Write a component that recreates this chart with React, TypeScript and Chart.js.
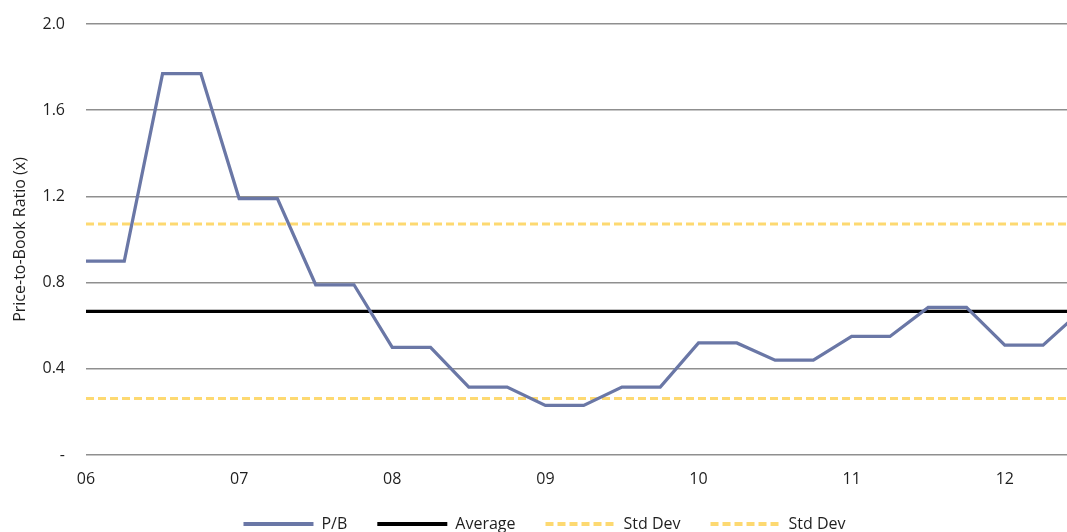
import React, { useEffect, useRef } from "react";
import { Chart, registerables } from "chart.js";

Chart.register(...registerables);

// Half-yearly P/B readings, each held for two quarters (x in decimal years, 6 = 2006)
const periods = [
  6, 6.25, 6.5, 6.75, 7, 7.25, 7.5, 7.75, 8, 8.25, 8.5, 8.75, 9, 9.25,
  9.5, 9.75, 10, 10.25, 10.5, 10.75, 11, 11.25, 11.5, 11.75, 12, 12.25, 12.5,
];
const pbValues = [
  0.9, 0.9, 1.77, 1.77, 1.19, 1.19, 0.79, 0.79, 0.5, 0.5, 0.315, 0.315, 0.23,
  0.23, 0.315, 0.315, 0.52, 0.52, 0.44, 0.44, 0.55, 0.55, 0.685, 0.685, 0.51,
  0.51, 0.67,
];

// Reference levels across the whole period
const averageValue = 0.667;
const upperStdDev = 1.072;
const lowerStdDev = 0.262;
const levelSpan = [6, 12.75];

const yearTicks = [6, 7, 8, 9, 10, 11, 12];
const yearLabels = ["06", "07", "08", "09", "10", "11", "12"];

const yMin = 0;
const yMax = 2.0;
const yStep = 0.4;

const FONT = "'Open Sans', 'Noto Sans', sans-serif";
const TEXT = "#1f1f1f";

const CANVAS_W = 1089;
const CANVAS_H = 542;

export default function App() {
  const canvasRef = useRef<HTMLCanvasElement | null>(null);

  useEffect(() => {
    const canvas = canvasRef.current;
    if (!canvas) return;

    const level = (v: number) => levelSpan.map((x) => ({ x, y: v }));

    const chart = new Chart(canvas, {
      type: "line",
      data: {
        datasets: [
          {
            label: "P/B",
            data: periods.map((x, i) => ({ x, y: pbValues[i] })),
            borderColor: "#6A77A6",
            backgroundColor: "#6A77A6",
            borderWidth: 3.25,
            pointRadius: 0,
            tension: 0,
            order: 0,
          },
          {
            label: "Average",
            data: level(averageValue),
            borderColor: "#000000",
            backgroundColor: "#000000",
            borderWidth: 3.25,
            pointRadius: 0,
            order: 1,
          },
          {
            label: "Std Dev",
            data: level(upperStdDev),
            borderColor: "#FDD971",
            backgroundColor: "#FDD971",
            borderWidth: 3,
            borderDash: [8, 4],
            pointRadius: 0,
            order: 2,
          },
          {
            label: "Std Dev",
            data: level(lowerStdDev),
            borderColor: "#FDD971",
            backgroundColor: "#FDD971",
            borderWidth: 3,
            borderDash: [8, 4],
            pointRadius: 0,
            order: 3,
          },
        ],
      },
      options: {
        animation: false,
        responsive: false,
        devicePixelRatio: 1,
        layout: { padding: { top: 24, left: 0, right: 0, bottom: 0 } },
        plugins: {
          tooltip: { enabled: false },
          legend: {
            position: "bottom",
            align: "center",
            labels: {
              usePointStyle: true,
              pointStyle: "line",
              pointStyleWidth: 70,
              padding: 30,
              color: TEXT,
              font: { family: FONT, size: 16 },
              // legend samples mirror each dataset's stroke, including dashes
              generateLabels: (c: any) =>
                c.data.datasets.map((ds: any, i: number) => ({
                  text: ds.label,
                  fillStyle: ds.borderColor,
                  strokeStyle: ds.borderColor,
                  lineWidth: 4,
                  lineDash: ds.borderDash || [],
                  lineCap: "butt",
                  pointStyle: "line",
                  fontColor: TEXT,
                  hidden: false,
                  datasetIndex: i,
                })),
            },
          },
        },
        scales: {
          x: {
            type: "linear",
            min: 6,
            max: 12.55,
            grid: { display: false, drawTicks: false },
            border: { display: false },
            afterBuildTicks: (scale: any) => {
              scale.ticks = yearTicks.map((value) => ({ value }));
            },
            afterFit: (scale: any) => {
              scale.height = 31;
            },
            ticks: {
              padding: 15,
              color: TEXT,
              font: { family: FONT, size: 16 },
              maxRotation: 0,
              autoSkip: false,
              callback: (value: any) => {
                const idx = yearTicks.indexOf(Number(value));
                return idx >= 0 ? yearLabels[idx] : "";
              },
            },
          },
          y: {
            type: "linear",
            min: yMin,
            max: yMax,
            grid: {
              color: "#8f8f8f",
              lineWidth: 1.5,
              drawTicks: true,
              tickLength: 21,
              tickColor: "rgba(0,0,0,0)",
            },
            border: { display: false },
            afterFit: (scale: any) => {
              scale.width = 86;
            },
            title: {
              display: true,
              text: "Price-to-Book Ratio (x)",
              color: TEXT,
              font: { family: FONT, size: 16 },
              padding: { top: 11, bottom: 0 },
            },
            ticks: {
              stepSize: yStep,
              padding: 0,
              color: TEXT,
              font: { family: FONT, size: 16 },
              callback: (value: any) => {
                const v = Number(value);
                return Math.abs(v) < 1e-9 ? "-" : v.toFixed(1);
              },
            },
          },
        },
      },
    });

    return () => chart.destroy();
  }, []);

  return (
    <div
      style={{
        position: "fixed",
        left: 0,
        top: 0,
        width: 1067,
        height: 532,
        overflow: "hidden",
        background: "#ffffff",
      }}
    >
      <canvas
        ref={canvasRef}
        width={CANVAS_W}
        height={CANVAS_H}
        style={{ display: "block", width: CANVAS_W, height: CANVAS_H }}
      />
    </div>
  );
}
